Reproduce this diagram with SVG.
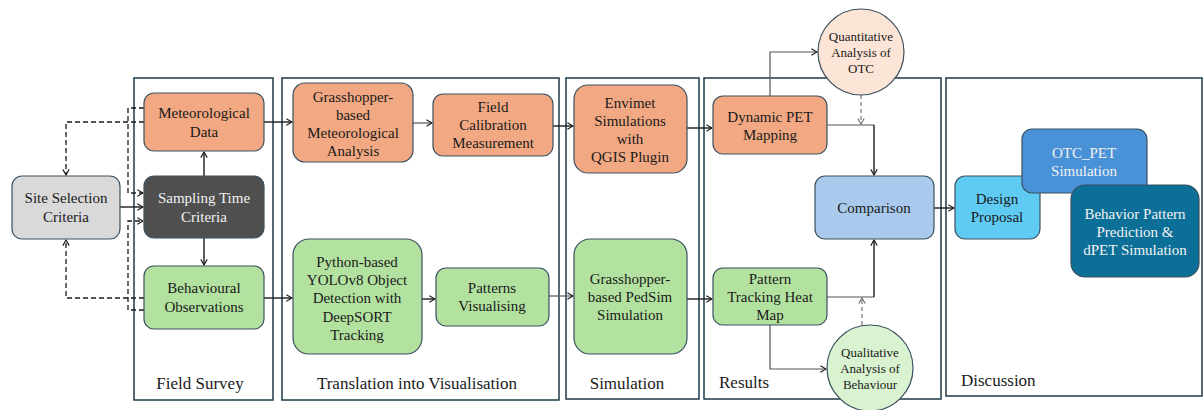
<svg xmlns="http://www.w3.org/2000/svg" width="1203" height="410" viewBox="0 0 1203 410" font-family="'Liberation Serif', 'Times New Roman', Times, serif">
<style>
text{font-family:'Liberation Serif','Times New Roman',Times,serif;font-size:15px;fill:#1a1a1a;text-anchor:middle}
.lt{fill:#f2f2f2}
.pl{font-size:17px}
.sm{font-size:13px}
.panel{fill:#fff;stroke:#1f3a4a;stroke-width:1.5}
.node{stroke:#3a5060;stroke-width:1.2}
.or{fill:#f2a983}
.gr{fill:#b3e2a0}
.c{fill:none;stroke:#1a1a1a;stroke-width:1.4}
.g{fill:none;stroke:#555;stroke-width:1.2}
.d{fill:none;stroke:#1a1a1a;stroke-width:1.3;stroke-dasharray:5 3}
.dg{fill:none;stroke:#777;stroke-width:1.2;stroke-dasharray:4 3}
</style>
<defs>
<marker id="a" viewBox="0 0 10 10" refX="9" refY="5" markerWidth="8" markerHeight="8" orient="auto" markerUnits="userSpaceOnUse">
<path d="M2,1 L9,5 L2,9" fill="none" stroke="#1a1a1a" stroke-width="1.4"/>
</marker>
<marker id="ag" viewBox="0 0 10 10" refX="9" refY="5" markerWidth="8" markerHeight="8" orient="auto" markerUnits="userSpaceOnUse">
<path d="M2,1 L9,5 L2,9" fill="none" stroke="#666" stroke-width="1.3"/>
</marker>
</defs>
<rect width="1203" height="410" fill="#fff"/>
<g id="panels">
<rect class="panel" x="134" y="78" width="139" height="322"/>
<rect class="panel" x="282" y="78" width="277" height="322"/>
<rect class="panel" x="566" y="78" width="133" height="321"/>
<rect class="panel" x="704" y="78" width="237" height="321"/>
<rect class="panel" x="946" y="78" width="256" height="318" stroke-width="2.2"/>
<text class="pl" x="200" y="389">Field Survey</text>
<text class="pl" x="417" y="389">Translation into Visualisation</text>
<text class="pl" x="627" y="389">Simulation</text>
<text class="pl" x="719" y="388" style="text-anchor:start">Results</text>
<text class="pl" x="961" y="386" style="text-anchor:start">Discussion</text>
</g>
<g id="connectors">
<path class="d" d="M144,108 H128 V193 H143" marker-end="url(#a)"/>
<path class="d" d="M144,122 H66 V175" marker-end="url(#a)"/>
<path class="d" d="M144,298 H66 V240" marker-end="url(#a)"/>
<path class="d" d="M144,310 H128 V221 H143" marker-end="url(#a)"/>
<path class="c" d="M120,207 H143" marker-end="url(#a)"/>
<path class="c" d="M204,176 V152" marker-end="url(#a)"/>
<path class="c" d="M204,238 V265" marker-end="url(#a)"/>
<path class="c" d="M264,122 H292" marker-end="url(#a)"/>
<path class="c" d="M264,298 H292" marker-end="url(#a)"/>
<path class="g" d="M413,123 H432" marker-end="url(#a)"/>
<path class="c" d="M422,299 H435" marker-end="url(#a)"/>
<path class="c" d="M553,126 H573" marker-end="url(#a)"/>
<path class="g" d="M549,296 H573" marker-end="url(#a)"/>
<path class="c" d="M687,128 H712" marker-end="url(#a)"/>
<path class="c" d="M687,299 H712" marker-end="url(#a)"/>
<path class="g" d="M770,96 V52 H817" marker-end="url(#a)"/>
<path class="g" d="M827,125 H874"/>
<path class="c" d="M874,125 V175" marker-end="url(#a)"/>
<path class="dg" d="M861,95 V124" marker-end="url(#ag)"/>
<path class="g" d="M827,297 H874"/>
<path class="c" d="M874,297 V240" marker-end="url(#a)"/>
<path class="dg" d="M862,325 V298" marker-end="url(#ag)"/>
<path class="g" d="M770,325 V369 H826" marker-end="url(#a)"/>
<path class="c" d="M934,208 H954" marker-end="url(#a)"/>
</g>
<g id="site-selection">
<rect class="node" x="12" y="176" width="108" height="63" rx="10" fill="#d9d9d9"/>
<text x="66" y="203">Site Selection</text>
<text x="66" y="222">Criteria</text>
</g>
<g id="meteorological-data">
<rect class="node or" x="144" y="93" width="120" height="58" rx="10"/>
<text x="204" y="118">Meteorological</text>
<text x="204" y="137">Data</text>
</g>
<g id="sampling-time">
<rect class="node" x="144" y="176" width="120" height="62" rx="10" fill="#4f4f4f"/>
<text class="lt" x="204" y="203">Sampling Time</text>
<text class="lt" x="204" y="222">Criteria</text>
</g>
<g id="behavioural-observations">
<rect class="node gr" x="144" y="266" width="120" height="63" rx="10"/>
<text x="204" y="293">Behavioural</text>
<text x="204" y="312">Observations</text>
</g>
<g id="grasshopper-met">
<rect class="node or" x="293" y="83" width="120" height="79" rx="12"/>
<text x="353" y="102">Grasshopper-</text>
<text x="353" y="120">based</text>
<text x="353" y="138">Meteorological</text>
<text x="353" y="156">Analysis</text>
</g>
<g id="field-calibration">
<rect class="node or" x="433" y="94" width="120" height="62" rx="10"/>
<text x="493" y="112">Field</text>
<text x="493" y="130">Calibration</text>
<text x="493" y="148">Measurement</text>
</g>
<g id="python-yolo">
<rect class="node gr" x="293" y="239" width="129" height="115" rx="16"/>
<text x="357" y="267">Python-based</text>
<text x="357" y="285">YOLOv8 Object</text>
<text x="357" y="303">Detection  with</text>
<text x="357" y="322">DeepSORT</text>
<text x="357" y="340">Tracking</text>
</g>
<g id="patterns-visualising">
<rect class="node gr" x="436" y="268" width="113" height="58" rx="10"/>
<text x="492" y="293">Patterns</text>
<text x="492" y="311">Visualising</text>
</g>
<g id="envimet">
<rect class="node or" x="574" y="85" width="113" height="88" rx="14"/>
<text x="630" y="108">Envimet</text>
<text x="630" y="126">Simulations</text>
<text x="630" y="144">with</text>
<text x="630" y="162">QGIS Plugin</text>
</g>
<g id="pedsim">
<rect class="node gr" x="574" y="239" width="113" height="115" rx="16"/>
<text x="630" y="284">Grasshopper-</text>
<text x="630" y="302">based PedSim</text>
<text x="630" y="320">Simulation</text>
</g>
<g id="dynamic-pet">
<rect class="node or" x="713" y="96" width="114" height="58" rx="10"/>
<text x="770" y="122">Dynamic PET</text>
<text x="770" y="140">Mapping</text>
</g>
<g id="pattern-tracking">
<rect class="node gr" x="713" y="268" width="114" height="57" rx="10"/>
<text x="770" y="284">Pattern</text>
<text x="770" y="302">Tracking Heat</text>
<text x="770" y="320">Map</text>
</g>
<g id="comparison">
<rect class="node" x="815" y="176" width="119" height="63" rx="10" fill="#a9caec"/>
<text x="874" y="213">Comparison</text>
</g>
<g id="quantitative">
<circle class="node" cx="861" cy="52" r="43" fill="#fce4d6"/>
<text class="sm" x="861" y="41">Quantitative</text>
<text class="sm" x="861" y="57">Analysis  of</text>
<text class="sm" x="861" y="73">OTC</text>
</g>
<g id="qualitative">
<circle class="node" cx="870" cy="368" r="43" fill="#d9f2d0"/>
<text class="sm" x="870" y="357">Qualitative</text>
<text class="sm" x="870" y="373">Analysis  of</text>
<text class="sm" x="870" y="389">Behaviour</text>
</g>
<g id="design-proposal">
<rect class="node" x="955" y="176" width="85" height="63" rx="10" fill="#5fcbf3"/>
<text x="997" y="204">Design</text>
<text x="997" y="222">Proposal</text>
</g>
<g id="otc-pet">
<rect class="node" x="1022" y="129" width="125" height="64" rx="10" fill="#4a92d8"/>
<text class="lt" x="1084" y="158">OTC_PET</text>
<text class="lt" x="1084" y="176">Simulation</text>
</g>
<g id="behavior-pattern">
<rect class="node" x="1071" y="185" width="128" height="92" rx="14" fill="#0b6f97"/>
<text class="lt" x="1135" y="219">Behavior Pattern</text>
<text class="lt" x="1135" y="237">Prediction &amp;</text>
<text class="lt" x="1135" y="255">dPET Simulation</text>
</g>
</svg>
